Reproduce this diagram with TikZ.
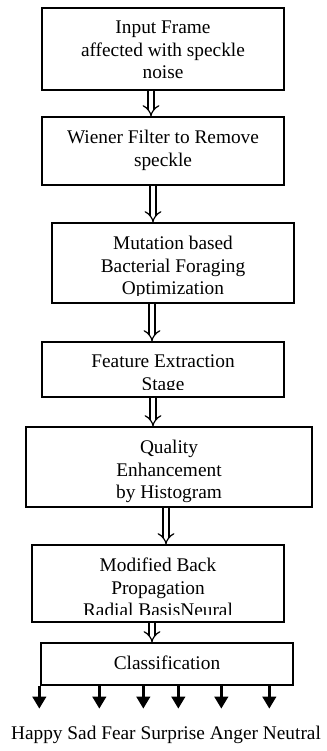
\documentclass[tikz,border=0pt]{standalone}
\usepackage{fontspec}
\setmainfont{Liberation Serif}
\usetikzlibrary{arrows.meta,calc}

\tikzset{
  flowbox/.style={draw, line width=1pt, inner sep=0pt},
  boxtext/.style={anchor=north, align=center, inner sep=0pt, font=\fontsize{14.5}{17}\selectfont},
  hollow arrow/.style={double, double distance=3.5pt, line width=0.9pt, -{Implies[length=3pt]}},
  emotion arrow/.style={line width=2.2pt, -{Triangle[width=10pt,length=9pt]}}
}

\begin{document}
\begin{tikzpicture}[x=0.75pt,y=-0.75pt]
  \useasboundingbox (0,0) rectangle (327,751);

  % Drawing box input
  \node[flowbox, minimum width=181.5pt, minimum height=61.5pt] (input) at (163,49) {};
  \node[boxtext] (input text) at ([yshift=-10pt]input.north) {Input Frame\\affected with speckle\\noise};

  % Drawing box wiener
  \node[flowbox, minimum width=181.5pt, minimum height=51pt] (wiener) at (163,151) {};
  \node[boxtext] (wiener text) at ([yshift=-10pt]wiener.north) {Wiener Filter to Remove\\speckle};

  % Drawing box mutation
  \node[flowbox, minimum width=181.5pt, minimum height=60pt] (mutation) at (173,263) {};
  \begin{scope}
    \clip (mutation.north west) rectangle ([yshift=6.5pt]mutation.south east);
    \node[boxtext] (mutation text) at ([yshift=-10pt]mutation.north) {Mutation based\\Bacterial Foraging\\Optimization};
  \end{scope}

  % Drawing box feature
  \node[flowbox, minimum width=181.5pt, minimum height=41.25pt] (feature) at (163,369.5) {};
  \begin{scope}
    \clip (feature.north west) rectangle ([yshift=6.5pt]feature.south east);
    \node[boxtext] (feature text) at ([yshift=-10pt]feature.north) {Feature Extraction\\Stage};
  \end{scope}

  % Drawing box quality
  \node[flowbox, minimum width=214.5pt, minimum height=60pt] (quality) at (169,467) {};
  \node[boxtext] (quality text) at ([yshift=-10pt]quality.north) {Quality\\Enhancement\\by Histogram};

  % Drawing box backprop
  \node[flowbox, minimum width=189pt, minimum height=57.75pt] (backprop) at (158,583.5) {};
  \begin{scope}
    \clip (backprop.north west) rectangle ([yshift=6.5pt]backprop.south east);
    \node[boxtext] (backprop text) at ([yshift=-10pt]backprop.north) {Modified Back\\Propagation\\Radial BasisNeural};
  \end{scope}

  % Drawing box classify
  \node[flowbox, minimum width=189pt, minimum height=31.5pt] (classify) at (167,664) {};
  \node[boxtext] (classify text) at ([yshift=-10pt]classify.north) {Classification};

  % Drawing hollow arrows
  \draw[hollow arrow] ([xshift=-9pt]input.south) -- ([xshift=-9pt]input.south |- wiener.north);
  \draw[hollow arrow] ([xshift=-7.5pt]wiener.south) -- ([xshift=-7.5pt]wiener.south |- mutation.north);
  \draw[hollow arrow] ([xshift=-15.75pt]mutation.south) -- ([xshift=-15.75pt]mutation.south |- feature.north);
  \draw[hollow arrow] ([xshift=-7.5pt]feature.south) -- ([xshift=-7.5pt]feature.south |- quality.north);
  \draw[hollow arrow] ([xshift=-2.25pt]quality.south) -- ([xshift=-2.25pt]quality.south |- backprop.north);
  \draw[hollow arrow] ([xshift=-4.5pt]backprop.south) -- ([xshift=-4.5pt]backprop.south |- classify.north);

  % Drawing emotion arrows
  \foreach \dx in {-1,59,103,138,181,229}
    \draw[emotion arrow] ($(classify.south west)+(\dx,0)$) -- ++(0,23);

  % Marking emotions
  \node[font=\fontsize{14.5}{17}\selectfont, inner sep=0pt] (emotions) at (166,735) {Happy Sad Fear Surprise Anger Neutral};
\end{tikzpicture}
\end{document}
